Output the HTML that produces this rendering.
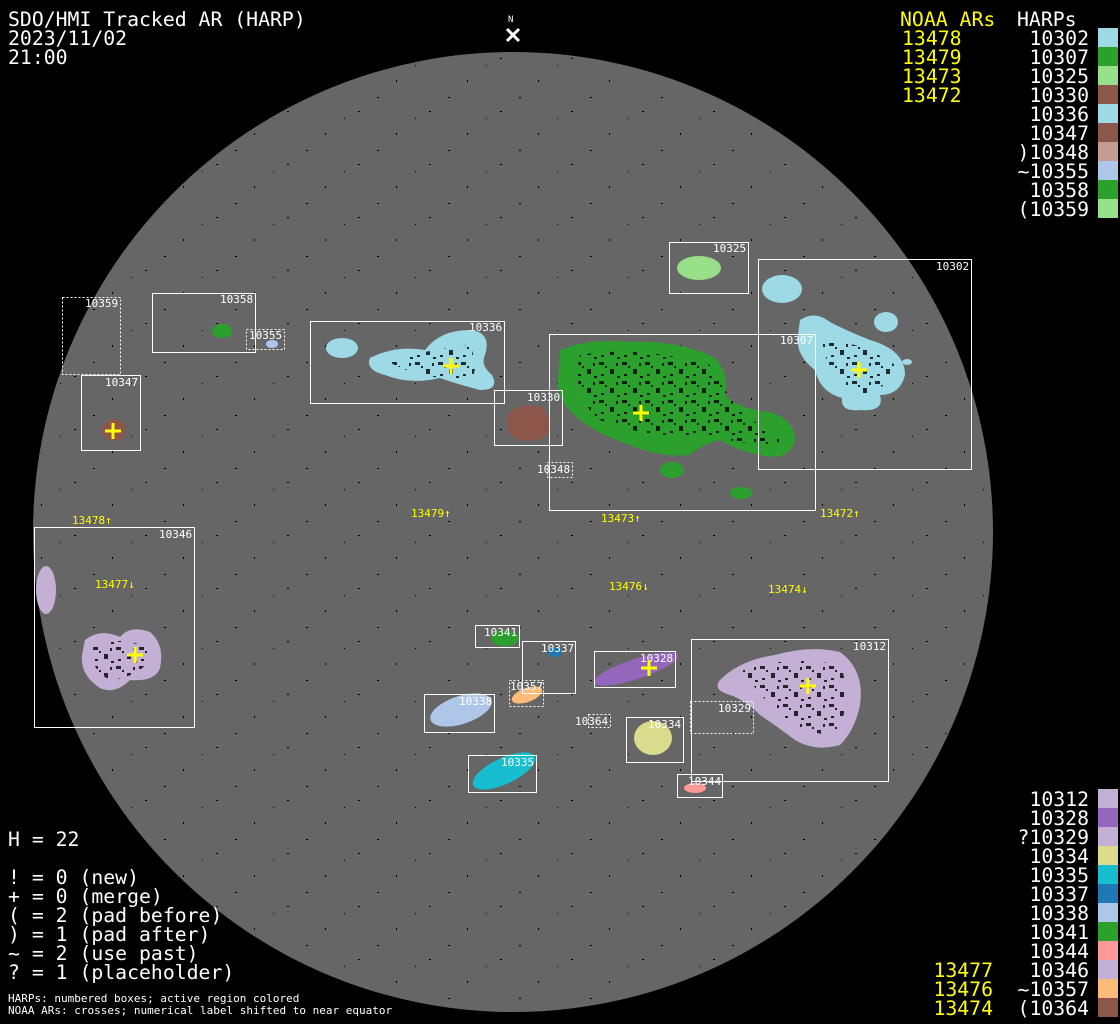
<!DOCTYPE html>
<html><head><meta charset="utf-8"><style>
html,body{margin:0;padding:0;background:#000;}
svg{display:block}
.t{font-family:"DejaVu Sans Mono","Liberation Mono",monospace;font-size:19.8px;fill:#fff}
.s{font-family:"DejaVu Sans Mono","Liberation Mono",monospace;font-size:11px;fill:#fff}
.y{fill:#ffff00}
.b{fill:none;stroke:#fff;stroke-width:1}
.d{fill:none;stroke:#fff;stroke-width:1;stroke-dasharray:2,2}
.c{stroke:#ffff00;stroke-width:3}
</style></head><body>
<svg width="1120" height="1024" viewBox="0 0 1120 1024" xmlns="http://www.w3.org/2000/svg">
<defs>
<pattern id="sp" width="71" height="53" patternUnits="userSpaceOnUse">
<rect x="3" y="5" width="2" height="1" fill="#000"/><rect x="41" y="27" width="1" height="2" fill="#000"/><rect x="60" y="12" width="1" height="1" fill="#000"/><rect x="22" y="44" width="2" height="1" fill="#000"/>
</pattern>
<pattern id="dk" width="23" height="19" patternUnits="userSpaceOnUse">
<rect x="1" y="1" width="5" height="3" fill="#000"/><rect x="12" y="8" width="4" height="5" fill="#000"/><rect x="7" y="5" width="2" height="2" fill="#000"/><rect x="3" y="13" width="3" height="2" fill="#000"/><rect x="18" y="2" width="2" height="3" fill="#000"/><rect x="19" y="15" width="3" height="2" fill="#000"/>
</pattern>
</defs>
<rect width="1120" height="1024" fill="#000"/>
<circle cx="513" cy="532" r="480" fill="#666"/>
<circle cx="513" cy="532" r="478" fill="url(#sp)"/>
<g id="reg">
<ellipse cx="699" cy="268" rx="22" ry="12" fill="#98df8a"/>
<ellipse cx="782" cy="289" rx="20" ry="14" fill="#9edae5"/>
<path d="M800 320 Q815 310 830 322 Q845 330 870 340 Q905 350 905 375 Q900 395 880 395 Q885 412 860 410 Q840 412 842 398 Q820 392 815 370 Q795 355 798 335 Z" fill="#9edae5"/>
<ellipse cx="886" cy="322" rx="12" ry="10" fill="#9edae5"/>
<ellipse cx="907" cy="362" rx="5" ry="3" fill="#9edae5"/>
<ellipse cx="222" cy="331" rx="10" ry="7" fill="#2ca02c"/>
<ellipse cx="272" cy="344" rx="6" ry="4" fill="#aec7e8"/>
<ellipse cx="342" cy="348" rx="16" ry="10" fill="#9edae5"/>
<path d="M370 358 Q395 345 425 350 Q440 330 470 330 Q492 332 485 355 Q480 365 492 375 Q500 390 480 390 Q460 385 440 378 Q410 385 385 375 Q365 370 370 358 Z" fill="#9edae5"/>
<path d="M560 350 Q590 338 630 342 Q680 340 715 358 Q730 375 725 395 Q740 410 770 412 Q795 420 795 440 Q790 462 760 455 Q735 450 720 440 Q700 445 690 455 Q660 458 630 445 Q600 435 580 420 Q555 400 558 380 Z" fill="#2ca02c"/>
<ellipse cx="672" cy="470" rx="12" ry="8" fill="#2ca02c"/>
<ellipse cx="741" cy="493" rx="11" ry="6" fill="#2ca02c"/>
<path d="M507 415 Q520 403 540 406 Q552 415 550 430 Q545 442 525 441 Q505 440 507 415 Z" fill="#8c564b"/>
<ellipse cx="114" cy="430" rx="12" ry="11" fill="#8c564b"/>
<ellipse cx="46" cy="590" rx="10" ry="24" fill="#c5b0d5"/>
<path d="M85 640 Q100 628 120 637 Q130 625 150 632 Q165 645 160 668 Q155 682 130 680 Q115 695 100 688 Q80 675 82 655 Z" fill="#c5b0d5"/>
<ellipse cx="505" cy="638" rx="14" ry="8" fill="#2ca02c"/>
<ellipse cx="555" cy="652" rx="7" ry="5" fill="#1f77b4"/>
<ellipse cx="636" cy="669" rx="44" ry="10" transform="rotate(-18 636 669)" fill="#9467bd"/>
<path d="M720 680 Q740 660 775 655 Q810 645 840 652 Q865 670 860 705 Q855 730 840 745 Q815 752 795 740 Q775 725 760 715 Q745 700 730 695 Q712 690 720 680 Z" fill="#c5b0d5"/>
<ellipse cx="527" cy="695" rx="16" ry="7" transform="rotate(-20 527 695)" fill="#ffbb78"/>
<ellipse cx="461" cy="710" rx="32" ry="14" transform="rotate(-18 461 710)" fill="#aec7e8"/>
<ellipse cx="653" cy="738" rx="19" ry="17" fill="#dbdb8d"/>
<ellipse cx="504" cy="771" rx="34" ry="13" transform="rotate(-25 504 771)" fill="#17becf"/>
<ellipse cx="695" cy="788" rx="11" ry="5" fill="#ff9896"/>
</g>
<g fill="url(#dk)" opacity="0.8">
<path d="M580 355 Q640 345 710 365 Q725 395 750 420 Q780 430 780 445 Q740 445 710 435 Q650 440 600 420 Q570 395 580 355 Z"/>
<path d="M740 670 Q790 655 840 665 Q855 700 835 735 Q800 735 770 705 Z"/>
<path d="M820 340 Q860 340 895 365 Q890 390 860 395 Q830 380 820 340 Z"/>
<path d="M385 360 Q430 350 470 345 Q480 370 470 380 Q420 380 385 360 Z"/>
<path d="M90 645 Q130 635 150 650 Q150 675 110 680 Q90 670 90 645 Z"/>
</g>
<rect class="b" x="669.5" y="242.5" width="79" height="51"/>
<rect class="b" x="758.5" y="259.5" width="213" height="210"/>
<rect class="d" x="62.5" y="297.5" width="58" height="77"/>
<rect class="b" x="152.5" y="293.5" width="103" height="59"/>
<rect class="d" x="246.5" y="329.5" width="38" height="20"/>
<rect class="b" x="310.5" y="321.5" width="194" height="82"/>
<rect class="b" x="549.5" y="334.5" width="266" height="176"/>
<rect class="b" x="494.5" y="390.5" width="68" height="55"/>
<rect class="b" x="81.5" y="375.5" width="59" height="75"/>
<rect class="d" x="547.5" y="462.5" width="25" height="15"/>
<rect class="b" x="34.5" y="527.5" width="160" height="200"/>
<rect class="b" x="475.5" y="625.5" width="44" height="22"/>
<rect class="b" x="522.5" y="641.5" width="53" height="52"/>
<rect class="b" x="594.5" y="651.5" width="81" height="36"/>
<rect class="b" x="691.5" y="639.5" width="197" height="142"/>
<rect class="d" x="509.5" y="680.5" width="34" height="26"/>
<rect class="b" x="424.5" y="694.5" width="70" height="38"/>
<rect class="d" x="588.5" y="714.5" width="22" height="13"/>
<rect class="d" x="690.5" y="701.5" width="63" height="32"/>
<rect class="b" x="626.5" y="717.5" width="57" height="45"/>
<rect class="b" x="468.5" y="755.5" width="68" height="37"/>
<rect class="b" x="677.5" y="774.5" width="45" height="23"/>
<g class="s">
<text x="713" y="252">10325</text><text x="936" y="270">10302</text>
<text x="85" y="307">10359</text><text x="220" y="303">10358</text>
<text x="249" y="339">10355</text><text x="469" y="331">10336</text>
<text x="780" y="344">10307</text><text x="527" y="401">10330</text>
<text x="105" y="386">10347</text><text x="537" y="473">10348</text>
<text x="159" y="538">10346</text><text x="484" y="636">10341</text>
<text x="541" y="652">10337</text><text x="640" y="662">10328</text>
<text x="853" y="650">10312</text><text x="510" y="690">10357</text>
<text x="459" y="705">10338</text><text x="575" y="725">10364</text>
<text x="718" y="712">10329</text><text x="648" y="728">10334</text>
<text x="501" y="766">10335</text><text x="688" y="785">10344</text>
</g>
<g class="c">
<path d="M443 366h16M451 358v16"/><path d="M633 413h16M641 405v16"/><path d="M851 370h16M859 362v16"/>
<path d="M105 431h16M113 423v16"/><path d="M127 655h16M135 647v16"/><path d="M641 668h16M649 660v16"/><path d="M800 686h16M808 678v16"/>
</g>
<g class="s y">
<text x="72" y="524">13478↑</text><text x="411" y="517">13479↑</text><text x="601" y="522">13473↑</text><text x="820" y="517">13472↑</text>
<text x="95" y="588">13477↓</text><text x="609" y="590">13476↓</text><text x="768" y="593">13474↓</text>
</g>
<text class="s" x="508" y="22" style="font-size:9px">N</text>
<path d="M507 29l12 12M519 29l-12 12" stroke="#fff" stroke-width="3"/>
<g class="t">
<text x="8" y="26">SDO/HMI Tracked AR (HARP)</text>
<text x="8" y="45">2023/11/02</text>
<text x="8" y="64">21:00</text>
</g>
<g class="t y"><text x="900" y="26">NOAA ARs</text><text x="902" y="45">13478</text><text x="902" y="64">13479</text><text x="902" y="83">13473</text><text x="902" y="102">13472</text></g>
<text class="t" x="1017" y="26">HARPs</text>
<g class="t" text-anchor="end">
<text x="1089" y="45">10302</text><text x="1089" y="64">10307</text><text x="1089" y="83">10325</text><text x="1089" y="102">10330</text><text x="1089" y="121">10336</text><text x="1089" y="140">10347</text><text x="1089" y="159">)10348</text><text x="1089" y="178">~10355</text><text x="1089" y="197">10358</text><text x="1089" y="216">(10359</text>
</g>
<g>
<rect x="1098" y="28" width="20" height="19" fill="#9edae5"/><rect x="1098" y="47" width="20" height="19" fill="#2ca02c"/><rect x="1098" y="66" width="20" height="19" fill="#98df8a"/><rect x="1098" y="85" width="20" height="19" fill="#8c564b"/><rect x="1098" y="104" width="20" height="19" fill="#9edae5"/><rect x="1098" y="123" width="20" height="19" fill="#8c564b"/><rect x="1098" y="142" width="20" height="19" fill="#c49c94"/><rect x="1098" y="161" width="20" height="19" fill="#aec7e8"/><rect x="1098" y="180" width="20" height="19" fill="#2ca02c"/><rect x="1098" y="199" width="20" height="19" fill="#98df8a"/>
</g>
<g class="t" text-anchor="end">
<text x="1089" y="806">10312</text><text x="1089" y="825">10328</text><text x="1089" y="844">?10329</text><text x="1089" y="863">10334</text><text x="1089" y="882">10335</text><text x="1089" y="901">10337</text><text x="1089" y="920">10338</text><text x="1089" y="939">10341</text><text x="1089" y="958">10344</text><text x="1089" y="977">10346</text><text x="1089" y="996">~10357</text><text x="1089" y="1015">(10364</text>
</g>
<g class="t y" text-anchor="end"><text x="993" y="977">13477</text><text x="993" y="996">13476</text><text x="993" y="1015">13474</text></g>
<g>
<rect x="1098" y="789" width="20" height="19" fill="#c5b0d5"/><rect x="1098" y="808" width="20" height="19" fill="#9467bd"/><rect x="1098" y="827" width="20" height="19" fill="#c5b0d5"/><rect x="1098" y="846" width="20" height="19" fill="#dbdb8d"/><rect x="1098" y="865" width="20" height="19" fill="#17becf"/><rect x="1098" y="884" width="20" height="19" fill="#1f77b4"/><rect x="1098" y="903" width="20" height="19" fill="#aec7e8"/><rect x="1098" y="922" width="20" height="19" fill="#2ca02c"/><rect x="1098" y="941" width="20" height="19" fill="#ff9896"/><rect x="1098" y="960" width="20" height="19" fill="#c5b0d5"/><rect x="1098" y="979" width="20" height="19" fill="#ffbb78"/><rect x="1098" y="998" width="20" height="19" fill="#8c564b"/>
</g>
<g class="t">
<text x="8" y="846">H = 22</text>
<text x="8" y="884">! = 0 (new)</text>
<text x="8" y="903">+ = 0 (merge)</text>
<text x="8" y="922">( = 2 (pad before)</text>
<text x="8" y="941">) = 1 (pad after)</text>
<text x="8" y="960">~ = 2 (use past)</text>
<text x="8" y="979">? = 1 (placeholder)</text>
</g>
<g class="s">
<text x="8" y="1002">HARPs: numbered boxes; active region colored</text>
<text x="8" y="1014">NOAA ARs: crosses; numerical label shifted to near equator</text>
</g>
</svg>
</body></html>
